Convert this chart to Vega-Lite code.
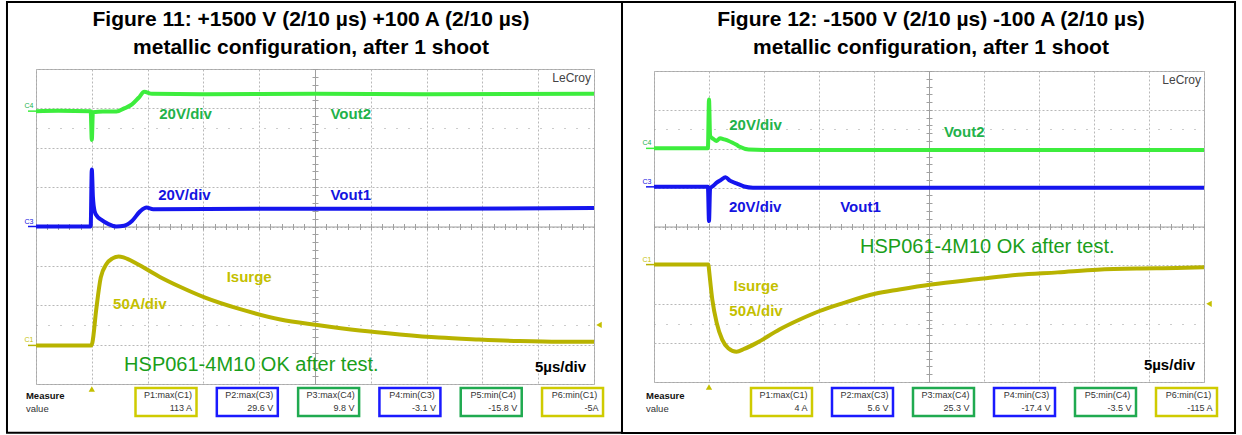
{
"$schema":"https://vega.github.io/schema/vega-lite/v6.json",
"padding":{"left":5,"top":0,"right":0,"bottom":0},
"background":"white",
"bounds":"flush",
"spacing":60,
"center":true,
"config":{"font":"Liberation Sans","view":{"stroke":"#a8a8a8","strokeWidth":1},"axis":{"minExtent":0,"gridColor":"#b8b8b8","gridDash":[2,2],"gridWidth":1,"tickColor":"#a0a0a0","domainColor":"#a0a0a0","labels":false}},
"datasets":{
"info11":[{"figure":"Figure 11"}],
"info12":[{"figure":"Figure 12"}],
"tr11":[
{"ch":"C4","t":0,"v":2.93},{"ch":"C4","t":2,"v":2.94},{"ch":"C4","t":4.9,"v":2.93},{"ch":"C4","t":5.0,"v":2.2},{"ch":"C4","t":5.1,"v":2.9},{"ch":"C4","t":6,"v":2.92},{"ch":"C4","t":7.2,"v":2.92},{"ch":"C4","t":7.9,"v":3.0},{"ch":"C4","t":8.6,"v":3.1},{"ch":"C4","t":9.2,"v":3.27},{"ch":"C4","t":9.7,"v":3.42},{"ch":"C4","t":10.4,"v":3.37},{"ch":"C4","t":15,"v":3.36},{"ch":"C4","t":25,"v":3.37},{"ch":"C4","t":35,"v":3.36},{"ch":"C4","t":50,"v":3.37},
{"ch":"C3","t":0,"v":0},{"ch":"C3","t":4.9,"v":0},{"ch":"C3","t":5.0,"v":1.45},{"ch":"C3","t":5.1,"v":0.75},{"ch":"C3","t":5.25,"v":0.39},{"ch":"C3","t":5.5,"v":0.25},{"ch":"C3","t":5.8,"v":0.18},{"ch":"C3","t":6.5,"v":0.06},{"ch":"C3","t":7.2,"v":0.0},{"ch":"C3","t":7.9,"v":0.02},{"ch":"C3","t":8.6,"v":0.14},{"ch":"C3","t":9.35,"v":0.39},{"ch":"C3","t":9.9,"v":0.48},{"ch":"C3","t":10.5,"v":0.44},{"ch":"C3","t":20,"v":0.45},{"ch":"C3","t":35,"v":0.45},{"ch":"C3","t":50,"v":0.47},
{"ch":"C1","t":0,"v":-3.02},{"ch":"C1","t":4.95,"v":-3.02},{"ch":"C1","t":5.05,"v":-2.95},{"ch":"C1","t":5.4,"v":-2.1},{"ch":"C1","t":5.8,"v":-1.3},{"ch":"C1","t":6.3,"v":-0.96},{"ch":"C1","t":6.86,"v":-0.81},{"ch":"C1","t":7.4,"v":-0.76},{"ch":"C1","t":7.9,"v":-0.79},{"ch":"C1","t":9.0,"v":-0.94},{"ch":"C1","t":11.1,"v":-1.28},{"ch":"C1","t":12.9,"v":-1.53},{"ch":"C1","t":15.1,"v":-1.8},{"ch":"C1","t":18.3,"v":-2.1},{"ch":"C1","t":21.9,"v":-2.36},{"ch":"C1","t":25.2,"v":-2.5},{"ch":"C1","t":29,"v":-2.64},{"ch":"C1","t":32.6,"v":-2.74},{"ch":"C1","t":36.1,"v":-2.82},{"ch":"C1","t":39.7,"v":-2.87},{"ch":"C1","t":43.3,"v":-2.91},{"ch":"C1","t":46.9,"v":-2.93},{"ch":"C1","t":50,"v":-2.93}
],
"tr12":[
{"ch":"C4","t":0,"v":2.01},{"ch":"C4","t":4.9,"v":2.01},{"ch":"C4","t":5.0,"v":3.27},{"ch":"C4","t":5.1,"v":2.33},{"ch":"C4","t":5.4,"v":2.25},{"ch":"C4","t":5.7,"v":2.2},{"ch":"C4","t":6.0,"v":2.27},{"ch":"C4","t":6.4,"v":2.24},{"ch":"C4","t":6.8,"v":2.2},{"ch":"C4","t":7.1,"v":2.16},{"ch":"C4","t":7.5,"v":2.1},{"ch":"C4","t":7.8,"v":2.05},{"ch":"C4","t":8.6,"v":1.98},{"ch":"C4","t":10,"v":1.97},{"ch":"C4","t":30,"v":1.97},{"ch":"C4","t":50,"v":1.97},
{"ch":"C3","t":0,"v":1.02},{"ch":"C3","t":4.9,"v":1.02},{"ch":"C3","t":5.0,"v":0.14},{"ch":"C3","t":5.1,"v":0.98},{"ch":"C3","t":5.4,"v":1.05},{"ch":"C3","t":5.7,"v":1.13},{"ch":"C3","t":6.1,"v":1.2},{"ch":"C3","t":6.5,"v":1.27},{"ch":"C3","t":6.9,"v":1.18},{"ch":"C3","t":7.5,"v":1.11},{"ch":"C3","t":8.2,"v":1.03},{"ch":"C3","t":9,"v":1.0},{"ch":"C3","t":30,"v":1.0},{"ch":"C3","t":50,"v":1.0},
{"ch":"C1","t":0,"v":-0.98},{"ch":"C1","t":4.95,"v":-0.98},{"ch":"C1","t":5.0,"v":-1.11},{"ch":"C1","t":5.3,"v":-1.88},{"ch":"C1","t":5.7,"v":-2.48},{"ch":"C1","t":6.2,"v":-2.91},{"ch":"C1","t":6.75,"v":-3.13},{"ch":"C1","t":7.5,"v":-3.22},{"ch":"C1","t":8.2,"v":-3.15},{"ch":"C1","t":9.3,"v":-3.0},{"ch":"C1","t":11.4,"v":-2.65},{"ch":"C1","t":13.2,"v":-2.4},{"ch":"C1","t":15,"v":-2.18},{"ch":"C1","t":17.2,"v":-1.97},{"ch":"C1","t":20.1,"v":-1.73},{"ch":"C1","t":22.3,"v":-1.62},{"ch":"C1","t":25.2,"v":-1.49},{"ch":"C1","t":29.5,"v":-1.35},{"ch":"C1","t":33.1,"v":-1.24},{"ch":"C1","t":36.7,"v":-1.18},{"ch":"C1","t":40.3,"v":-1.11},{"ch":"C1","t":43.9,"v":-1.08},{"ch":"C1","t":47.5,"v":-1.07},{"ch":"C1","t":50,"v":-1.05}
],
"ch11":[{"ch":"C4","level":2.93},{"ch":"C3","level":0},{"ch":"C1","level":-3.02}],
"ch12":[{"ch":"C4","level":2.01},{"ch":"C3","level":1.02},{"ch":"C1","level":-0.98}],
"ann11":[
{"txt":"20V/div","t":13.4,"v":2.86,"kind":"C4"},{"txt":"Vout2","t":28.2,"v":2.86,"kind":"C4"},
{"txt":"20V/div","t":13.3,"v":0.8,"kind":"C3"},{"txt":"Vout1","t":28.2,"v":0.8,"kind":"C3"},
{"txt":"Isurge","t":19.1,"v":-1.28,"kind":"C1"},{"txt":"50A/div","t":9.3,"v":-1.96,"kind":"C1"},
{"txt":"5µs/div","t":47.0,"v":-3.58,"kind":"K"},
{"txt":"HSP061-4M10 OK after test.","t":19.3,"v":-3.51,"kind":"note"}
],
"ann12":[
{"txt":"20V/div","t":9.23,"v":2.62,"kind":"C4"},{"txt":"Vout2","t":28.2,"v":2.42,"kind":"C4"},
{"txt":"20V/div","t":9.2,"v":0.5,"kind":"C3"},{"txt":"Vout1","t":18.77,"v":0.5,"kind":"C3"},
{"txt":"Isurge","t":9.27,"v":-1.54,"kind":"C1"},{"txt":"50A/div","t":9.27,"v":-2.18,"kind":"C1"},
{"txt":"5µs/div","t":46.86,"v":-3.55,"kind":"K"},
{"txt":"HSP061-4M10 OK after test.","t":30.3,"v":-0.54,"kind":"note"}
],
"m11":[
{"slot":1,"name":"P1:max(C1)","val":"113 A","ch":"C1"},{"slot":2,"name":"P2:max(C3)","val":"29.6 V","ch":"C3"},{"slot":3,"name":"P3:max(C4)","val":"9.8 V","ch":"C4"},
{"slot":4,"name":"P4:min(C3)","val":"-3.1 V","ch":"C3"},{"slot":5,"name":"P5:min(C4)","val":"-15.8 V","ch":"C4"},{"slot":6,"name":"P6:min(C1)","val":"-5A","ch":"C1"}
],
"m12":[
{"slot":1,"name":"P1:max(C1)","val":"4 A","ch":"C1"},{"slot":2,"name":"P2:max(C3)","val":"5.6 V","ch":"C3"},{"slot":3,"name":"P3:max(C4)","val":"25.3 V","ch":"C4"},
{"slot":4,"name":"P4:min(C3)","val":"-17.4 V","ch":"C3"},{"slot":5,"name":"P5:min(C4)","val":"-3.5 V","ch":"C4"},{"slot":6,"name":"P6:min(C1)","val":"-115 A","ch":"C1"}
]
},
"hconcat":[
{
"width":558,"height":315,
"title":{"text":["Figure 11: +1500 V (2/10 µs) +100 A (2/10 µs)","metallic configuration, after 1 shoot"],"fontSize":21,"fontWeight":"bold","font":"Liberation Sans","lineHeight":28,"offset":-57,"dx":-4,"color":"#000000","anchor":"middle"},
"layer":[
{"layer":[
{"data":{"name":"info11"},"mark":{"type":"rect","fill":"white","fillOpacity":0,"stroke":"black","strokeWidth":2},
 "encoding":{"x":{"datum":-2.6,"type":"quantitative","scale":{"domain":[0,50],"nice":false,"zero":false},"axis":null},"x2":{"datum":52.51},
 "y":{"datum":5.70,"type":"quantitative","scale":{"domain":[-4,4],"nice":false,"zero":false},"axis":null},"y2":{"datum":-5.24}}},
{"data":{"name":"tr11"},"mark":{"type":"line","strokeWidth":4,"interpolate":"monotone"},
 "encoding":{"x":{"field":"t","type":"quantitative","scale":{"domain":[0,50],"nice":false,"zero":false},"axis":{"orient":"bottom","values":[0,5,10,15,20,25,30,35,40,45,50],"grid":true,"ticks":false,"domain":false,"title":null}},
 "y":{"field":"v","type":"quantitative","scale":{"domain":[-4,4],"nice":false,"zero":false},"axis":{"orient":"left","values":[-4,-3,-2,-1,0,1,2,3,4],"grid":true,"ticks":false,"domain":false,"title":null}},
 "stroke":{"field":"ch","type":"nominal","scale":{"domain":["C1","C3","C4"],"range":["#b8b300","#1515ee","#3ded3d"]},"legend":null}}},
{"data":{"name":"ch11"},"mark":{"type":"point","shape":"M-1,0H1","size":64,"filled":false,"strokeWidth":1.5,"xOffset":-4,"opacity":1},
 "encoding":{"x":{"datum":0,"type":"quantitative","axis":{"orient":"bottom","offset":-157.5,"values":[0,1,2,3,4,5,6,7,8,9,10,11,12,13,14,15,16,17,18,19,20,21,22,23,24,25,26,27,28,29,30,31,32,33,34,35,36,37,38,39,40,41,42,43,44,45,46,47,48,49,50],"ticks":true,"tickSize":3,"domain":true,"grid":false,"title":null}},
 "y":{"field":"level","type":"quantitative","axis":{"orient":"left","offset":-279,"values":[-4,-3.8,-3.6,-3.4,-3.2,-3,-2.8,-2.6,-2.4,-2.2,-2,-1.8,-1.6,-1.4,-1.2,-1,-0.8,-0.6,-0.4,-0.2,0,0.2,0.4,0.6,0.8,1,1.2,1.4,1.6,1.8,2,2.2,2.4,2.6,2.8,3,3.2,3.4,3.6,3.8,4],"ticks":true,"tickSize":3,"domain":true,"grid":false,"title":null}},
 "stroke":{"field":"ch","type":"nominal","scale":{"domain":["C1","C3","C4"],"range":["#b8b300","#1515ee","#3ded3d"]},"legend":null}}},
{"data":{"name":"ch11"},"mark":{"type":"text","fontSize":7,"dx":-7,"dy":-5,"align":"center","baseline":"middle"},
 "encoding":{"x":{"datum":0,"type":"quantitative","axis":{"orient":"top","offset":-157.5,"values":[0,1,2,3,4,5,6,7,8,9,10,11,12,13,14,15,16,17,18,19,20,21,22,23,24,25,26,27,28,29,30,31,32,33,34,35,36,37,38,39,40,41,42,43,44,45,46,47,48,49,50],"ticks":true,"tickSize":3,"domain":false,"grid":false,"title":null}},
 "y":{"field":"level","type":"quantitative","axis":{"orient":"right","offset":-279,"values":[-4,-3.8,-3.6,-3.4,-3.2,-3,-2.8,-2.6,-2.4,-2.2,-2,-1.8,-1.6,-1.4,-1.2,-1,-0.8,-0.6,-0.4,-0.2,0,0.2,0.4,0.6,0.8,1,1.2,1.4,1.6,1.8,2,2.2,2.4,2.6,2.8,3,3.2,3.4,3.6,3.8,4],"ticks":true,"tickSize":3,"domain":false,"grid":false,"title":null}},
 "text":{"field":"ch"},
 "fill":{"field":"ch","type":"nominal","scale":{"domain":["C1","C3","C4","K"],"range":["#c4bf00","#1414e0","#22b24a","#000000"]},"legend":null}}},
{"data":{"name":"ann11"},"transform":[{"filter":"datum.kind != 'note'"}],"mark":{"type":"text","fontSize":15,"fontWeight":"bold","align":"center","baseline":"middle"},
 "encoding":{"x":{"field":"t","type":"quantitative","axis":null},
 "y":{"field":"v","type":"quantitative","axis":{"orient":"left","values":[-2.5,2.5],"grid":true,"gridDash":[1,11],"gridColor":"#999999","ticks":false,"domain":false,"title":null}},
 "text":{"field":"txt"},
 "fill":{"field":"kind","type":"nominal","scale":{"domain":["C1","C3","C4","K"],"range":["#c4bf00","#1414e0","#22b24a","#000000"]},"legend":null}}},
{"data":{"name":"ann11"},"transform":[{"filter":"datum.kind == 'note'"}],"mark":{"type":"text","fontSize":20,"align":"center","baseline":"middle","fill":"#1a9e1a"},
 "encoding":{"x":{"field":"t","type":"quantitative","axis":null},"y":{"field":"v","type":"quantitative","axis":null},"text":{"field":"txt"}}},
{"data":{"name":"info11"},"mark":{"type":"text","text":"LeCroy","fontSize":12,"align":"right","baseline":"middle","dx":-3,"dy":9,"fill":"#444444"},
 "encoding":{"x":{"datum":50,"type":"quantitative","axis":null},"y":{"datum":4,"type":"quantitative","axis":null}}},
{"data":{"name":"info11"},"mark":{"type":"text","text":"Measure","fontSize":9.5,"fontWeight":"bold","align":"left","baseline":"middle","fill":"#111111"},
 "encoding":{"x":{"datum":-0.9,"type":"quantitative","axis":null},"y":{"datum":-4.305,"type":"quantitative","axis":null}}},
{"data":{"name":"info11"},"mark":{"type":"text","text":"value","fontSize":9.5,"align":"left","baseline":"middle","fill":"#333333"},
 "encoding":{"x":{"datum":-0.9,"type":"quantitative","axis":null},"y":{"datum":-4.635,"type":"quantitative","axis":null}}},
{"data":{"name":"info11"},"mark":{"type":"point","shape":"triangle-up","size":40,"filled":true,"fill":"#c4bf00","opacity":1,"yOffset":5},
 "encoding":{"x":{"datum":5,"type":"quantitative","axis":null},"y":{"datum":-4,"type":"quantitative","axis":null}}},
{"data":{"name":"info11"},"mark":{"type":"point","shape":"triangle-left","size":40,"filled":true,"fill":"#c4bf00","opacity":1,"xOffset":5},
 "encoding":{"x":{"datum":50,"type":"quantitative","axis":null},"y":{"datum":-2.5,"type":"quantitative","axis":null}}}
],"resolve":{"axis":{"x":"independent","y":"independent"}}},
{"data":{"name":"m11"},"layer":[
{"mark":{"type":"point","shape":"M-1,-0.46H1V0.46H-1Z","size":3721,"filled":false,"strokeWidth":2.5,"opacity":1},
 "encoding":{"x":{"field":"slot","type":"quantitative","scale":{"domain":[-0.599,6.264],"nice":false,"zero":false},"axis":null},
 "y":{"datum":-4.457,"type":"quantitative","axis":null},
 "stroke":{"field":"ch","type":"nominal","scale":{"domain":["C1","C3","C4"],"range":["#cfcb00","#1a1aff","#20aa50"]},"legend":null}}},
{"mark":{"type":"text","fontSize":9,"align":"center","baseline":"middle","dx":2,"dy":-6.5,"fill":"#333333"},
 "encoding":{"x":{"field":"slot","type":"quantitative","axis":null},"y":{"datum":-4.457,"type":"quantitative","axis":null},"text":{"field":"name"}}},
{"mark":{"type":"text","fontSize":9,"align":"right","baseline":"middle","dx":26,"dy":6.5,"fill":"#333333"},
 "encoding":{"x":{"field":"slot","type":"quantitative","axis":null},"y":{"datum":-4.457,"type":"quantitative","axis":null},"text":{"field":"val"}}}
]}
],
"resolve":{"scale":{"x":"independent","stroke":"independent"},"axis":{"x":"independent","y":"independent"}}
},
{
"width":550,"height":311,
"title":{"text":["Figure 12: -1500 V (2/10 µs) -100 A (2/10 µs)","metallic configuration, after 1 shoot"],"fontSize":21,"fontWeight":"bold","font":"Liberation Sans","lineHeight":28,"offset":-57,"dx":2,"color":"#000000","anchor":"middle"},
"layer":[
{"layer":[
{"data":{"name":"info12"},"mark":{"type":"rect","fill":"white","fillOpacity":0,"stroke":"black","strokeWidth":2},
 "encoding":{"x":{"datum":-2.91,"type":"quantitative","scale":{"domain":[0,50],"nice":false,"zero":false},"axis":null},"x2":{"datum":52.82},
 "y":{"datum":5.775,"type":"quantitative","scale":{"domain":[-4,4],"nice":false,"zero":false},"axis":null},"y2":{"datum":-5.312}}},
{"data":{"name":"tr12"},"mark":{"type":"line","strokeWidth":4,"interpolate":"monotone"},
 "encoding":{"x":{"field":"t","type":"quantitative","scale":{"domain":[0,50],"nice":false,"zero":false},"axis":{"orient":"bottom","values":[0,5,10,15,20,25,30,35,40,45,50],"grid":true,"ticks":false,"domain":false,"title":null}},
 "y":{"field":"v","type":"quantitative","scale":{"domain":[-4,4],"nice":false,"zero":false},"axis":{"orient":"left","values":[-4,-3,-2,-1,0,1,2,3,4],"grid":true,"ticks":false,"domain":false,"title":null}},
 "stroke":{"field":"ch","type":"nominal","scale":{"domain":["C1","C3","C4"],"range":["#b8b300","#1515ee","#3ded3d"]},"legend":null}}},
{"data":{"name":"ch12"},"mark":{"type":"point","shape":"M-1,0H1","size":64,"filled":false,"strokeWidth":1.5,"xOffset":-4,"opacity":1},
 "encoding":{"x":{"datum":0,"type":"quantitative","axis":{"orient":"bottom","offset":-155.5,"values":[0,1,2,3,4,5,6,7,8,9,10,11,12,13,14,15,16,17,18,19,20,21,22,23,24,25,26,27,28,29,30,31,32,33,34,35,36,37,38,39,40,41,42,43,44,45,46,47,48,49,50],"ticks":true,"tickSize":3,"domain":true,"grid":false,"title":null}},
 "y":{"field":"level","type":"quantitative","axis":{"orient":"left","offset":-275,"values":[-4,-3.8,-3.6,-3.4,-3.2,-3,-2.8,-2.6,-2.4,-2.2,-2,-1.8,-1.6,-1.4,-1.2,-1,-0.8,-0.6,-0.4,-0.2,0,0.2,0.4,0.6,0.8,1,1.2,1.4,1.6,1.8,2,2.2,2.4,2.6,2.8,3,3.2,3.4,3.6,3.8,4],"ticks":true,"tickSize":3,"domain":true,"grid":false,"title":null}},
 "stroke":{"field":"ch","type":"nominal","scale":{"domain":["C1","C3","C4"],"range":["#b8b300","#1515ee","#3ded3d"]},"legend":null}}},
{"data":{"name":"ch12"},"mark":{"type":"text","fontSize":7,"dx":-7,"dy":-5,"align":"center","baseline":"middle"},
 "encoding":{"x":{"datum":0,"type":"quantitative","axis":{"orient":"top","offset":-155.5,"values":[0,1,2,3,4,5,6,7,8,9,10,11,12,13,14,15,16,17,18,19,20,21,22,23,24,25,26,27,28,29,30,31,32,33,34,35,36,37,38,39,40,41,42,43,44,45,46,47,48,49,50],"ticks":true,"tickSize":3,"domain":false,"grid":false,"title":null}},
 "y":{"field":"level","type":"quantitative","axis":{"orient":"right","offset":-275,"values":[-4,-3.8,-3.6,-3.4,-3.2,-3,-2.8,-2.6,-2.4,-2.2,-2,-1.8,-1.6,-1.4,-1.2,-1,-0.8,-0.6,-0.4,-0.2,0,0.2,0.4,0.6,0.8,1,1.2,1.4,1.6,1.8,2,2.2,2.4,2.6,2.8,3,3.2,3.4,3.6,3.8,4],"ticks":true,"tickSize":3,"domain":false,"grid":false,"title":null}},
 "text":{"field":"ch"},
 "fill":{"field":"ch","type":"nominal","scale":{"domain":["C1","C3","C4","K"],"range":["#c4bf00","#1414e0","#22b24a","#000000"]},"legend":null}}},
{"data":{"name":"ann12"},"transform":[{"filter":"datum.kind != 'note'"}],"mark":{"type":"text","fontSize":15,"fontWeight":"bold","align":"center","baseline":"middle"},
 "encoding":{"x":{"field":"t","type":"quantitative","axis":null},
 "y":{"field":"v","type":"quantitative","axis":{"orient":"left","values":[-2.5,2.5],"grid":true,"gridDash":[1,11],"gridColor":"#999999","ticks":false,"domain":false,"title":null}},
 "text":{"field":"txt"},
 "fill":{"field":"kind","type":"nominal","scale":{"domain":["C1","C3","C4","K"],"range":["#c4bf00","#1414e0","#22b24a","#000000"]},"legend":null}}},
{"data":{"name":"ann12"},"transform":[{"filter":"datum.kind == 'note'"}],"mark":{"type":"text","fontSize":20,"align":"center","baseline":"middle","fill":"#1a9e1a"},
 "encoding":{"x":{"field":"t","type":"quantitative","axis":null},"y":{"field":"v","type":"quantitative","axis":null},"text":{"field":"txt"}}},
{"data":{"name":"info12"},"mark":{"type":"text","text":"LeCroy","fontSize":12,"align":"right","baseline":"middle","dx":-3,"dy":9,"fill":"#444444"},
 "encoding":{"x":{"datum":50,"type":"quantitative","axis":null},"y":{"datum":4,"type":"quantitative","axis":null}}},
{"data":{"name":"info12"},"mark":{"type":"text","text":"Measure","fontSize":9.5,"fontWeight":"bold","align":"left","baseline":"middle","fill":"#111111"},
 "encoding":{"x":{"datum":-0.73,"type":"quantitative","axis":null},"y":{"datum":-4.36,"type":"quantitative","axis":null}}},
{"data":{"name":"info12"},"mark":{"type":"text","text":"value","fontSize":9.5,"align":"left","baseline":"middle","fill":"#333333"},
 "encoding":{"x":{"datum":-0.73,"type":"quantitative","axis":null},"y":{"datum":-4.695,"type":"quantitative","axis":null}}},
{"data":{"name":"info12"},"mark":{"type":"point","shape":"triangle-up","size":40,"filled":true,"fill":"#c4bf00","opacity":1,"yOffset":5},
 "encoding":{"x":{"datum":5,"type":"quantitative","axis":null},"y":{"datum":-4,"type":"quantitative","axis":null}}},
{"data":{"name":"info12"},"mark":{"type":"point","shape":"triangle-left","size":40,"filled":true,"fill":"#c4bf00","opacity":1,"xOffset":5},
 "encoding":{"x":{"datum":50,"type":"quantitative","axis":null},"y":{"datum":-1.99,"type":"quantitative","axis":null}}}
],"resolve":{"axis":{"x":"independent","y":"independent"}}},
{"data":{"name":"m12"},"layer":[
{"mark":{"type":"point","shape":"M-1,-0.46H1V0.46H-1Z","size":3721,"filled":false,"strokeWidth":2.5,"opacity":1},
 "encoding":{"x":{"field":"slot","type":"quantitative","scale":{"domain":[-0.574,6.216],"nice":false,"zero":false},"axis":null},
 "y":{"datum":-4.514,"type":"quantitative","axis":null},
 "stroke":{"field":"ch","type":"nominal","scale":{"domain":["C1","C3","C4"],"range":["#cfcb00","#1a1aff","#20aa50"]},"legend":null}}},
{"mark":{"type":"text","fontSize":9,"align":"center","baseline":"middle","dx":2,"dy":-6.5,"fill":"#333333"},
 "encoding":{"x":{"field":"slot","type":"quantitative","axis":null},"y":{"datum":-4.514,"type":"quantitative","axis":null},"text":{"field":"name"}}},
{"mark":{"type":"text","fontSize":9,"align":"right","baseline":"middle","dx":26,"dy":6.5,"fill":"#333333"},
 "encoding":{"x":{"field":"slot","type":"quantitative","axis":null},"y":{"datum":-4.514,"type":"quantitative","axis":null},"text":{"field":"val"}}}
]}
],
"resolve":{"scale":{"x":"independent","stroke":"independent"},"axis":{"x":"independent","y":"independent"}}
}
]
}
